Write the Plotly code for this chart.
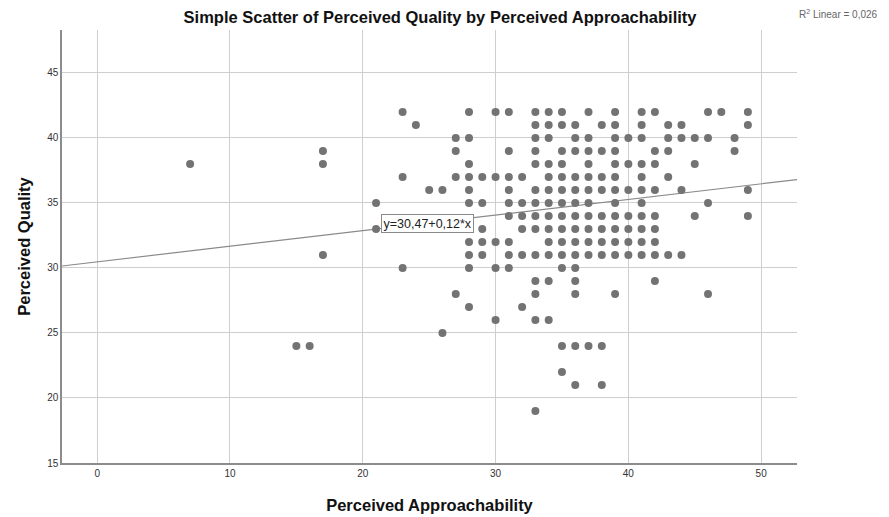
import plotly.graph_objects as go

# Perceived Approachability (x) values grouped by Perceived Quality score (y)
quality_levels = [42, 41, 40, 39, 38, 37, 36, 35, 34, 33, 32, 31, 30, 29, 28, 27, 26, 25, 24, 22, 21, 19]
approach_42 = [23, 28, 30, 31, 33, 34, 35, 37, 39, 41, 42, 46, 47, 49]
approach_41 = [24, 33, 34, 35, 36, 38, 39, 41, 43, 44, 49]
approach_40 = [27, 28, 33, 34, 36, 37, 39, 40, 41, 43, 44, 45, 46, 48]
approach_39 = [17, 27, 31, 33, 35, 36, 37, 38, 39, 42, 43, 48]
approach_38 = [7, 17, 28, 33, 34, 35, 37, 39, 40, 41, 42, 45]
approach_37 = [23, 27, 28, 29, 30, 31, 32, 34, 35, 36, 37, 38, 39, 41, 43]
approach_36 = [25, 26, 28, 31, 33, 34, 35, 36, 37, 38, 39, 40, 41, 42, 44, 49]
approach_35 = [21, 28, 29, 31, 32, 33, 34, 35, 36, 37, 39, 41, 46]
approach_34 = [31, 32, 33, 34, 35, 36, 37, 38, 39, 40, 41, 42, 45, 49]
approach_33 = [21, 29, 32, 33, 34, 35, 36, 37, 38, 39, 40, 41, 42]
approach_32 = [28, 29, 30, 31, 34, 35, 36, 37, 38, 39, 40, 41, 42]
approach_31 = [17, 28, 29, 31, 32, 33, 34, 35, 36, 37, 38, 39, 40, 41, 42, 43, 44]
approach_30 = [23, 28, 30, 31, 35, 36]
approach_29 = [33, 34, 36, 42]
approach_28 = [27, 33, 36, 39, 46]
approach_27 = [28, 32]
approach_26 = [30, 33, 34]
approach_25 = [26]
approach_24 = [15, 16, 35, 36, 37, 38]
approach_22 = [35]
approach_21 = [36, 38]
approach_19 = [33]

approach_rows = [approach_42, approach_41, approach_40, approach_39, approach_38, approach_37,
                 approach_36, approach_35, approach_34, approach_33, approach_32, approach_31,
                 approach_30, approach_29, approach_28, approach_27, approach_26, approach_25,
                 approach_24, approach_22, approach_21, approach_19]

# Linear fit as reported
intercept = 30.47
slope = 0.12
r_squared_text = "0,026"

x_ticks = [0, 10, 20, 30, 40, 50]
y_ticks = [15, 20, 25, 30, 35, 40, 45]
x_range = [-2.65, 52.7]
y_range = [15, 48.3]

xs, ys = [], []
for q, row in zip(quality_levels, approach_rows):
    for a in row:
        xs.append(a)
        ys.append(q)

fig = go.Figure()

fig.add_trace(go.Scatter(
    x=[x_range[0], x_range[1]],
    y=[intercept + slope * x_range[0], intercept + slope * x_range[1]],
    mode="lines",
    line=dict(color="#8a8a8a", width=1.2),
    hoverinfo="skip",
    showlegend=False,
))

fig.add_trace(go.Scatter(
    x=xs, y=ys,
    mode="markers",
    marker=dict(color="#737373", size=8, line=dict(width=0)),
    showlegend=False,
))

fig.add_annotation(
    x=21.4, y=33.45, xref="x", yref="y",
    text="y=30,47+0,12*x",
    showarrow=False,
    xanchor="left", yanchor="middle",
    font=dict(family="Liberation Sans, Arial, sans-serif", size=12.5, color="#222222"),
    bgcolor="white",
    bordercolor="#8a8a8a", borderwidth=1, borderpad=1.5,
)

fig.add_annotation(
    x=1.0, y=1.0, xref="paper", yref="paper",
    xshift=0, yshift=8,
    text="R<sup>2</sup> Linear = " + r_squared_text,
    showarrow=False,
    xanchor="left", yanchor="bottom",
    font=dict(family="Liberation Sans, Arial, sans-serif", size=10, color="#666666"),
)

fig.update_layout(
    width=889, height=517,
    margin=dict(l=62, r=92, t=30, b=54),
    paper_bgcolor="white",
    plot_bgcolor="white",
    title=dict(
        text="<b>Simple Scatter of Perceived Quality by Perceived Approachability</b>",
        x=0.495, xanchor="center", y=0.967, yanchor="middle",
        font=dict(family="Liberation Sans, Arial, sans-serif", size=16.5, color="#111111"),
    ),
    font=dict(family="Liberation Sans, Arial, sans-serif"),
)

fig.update_xaxes(
    range=x_range, tickvals=x_ticks, ticktext=[str(t) for t in x_ticks],
    showgrid=True, gridcolor="#cfcfcf", gridwidth=1,
    zeroline=False, automargin=False,
    showline=True, linecolor="#8c8c8c", linewidth=1.5,
    ticks="", tickfont=dict(size=10, color="#333333"),
    title=dict(text="<b>Perceived Approachability</b>",
               font=dict(size=16.5, color="#111111"), standoff=22),
)
fig.update_yaxes(
    range=y_range, tickvals=y_ticks, ticktext=[str(t) for t in y_ticks],
    showgrid=True, gridcolor="#cfcfcf", gridwidth=1,
    zeroline=False, automargin=False,
    showline=True, linecolor="#8c8c8c", linewidth=1.5,
    ticks="", tickfont=dict(size=10, color="#333333"),
    title=dict(text="<b>Perceived Quality</b>",
               font=dict(size=16.5, color="#111111"), standoff=12),
)

fig.write_html("out.html")
